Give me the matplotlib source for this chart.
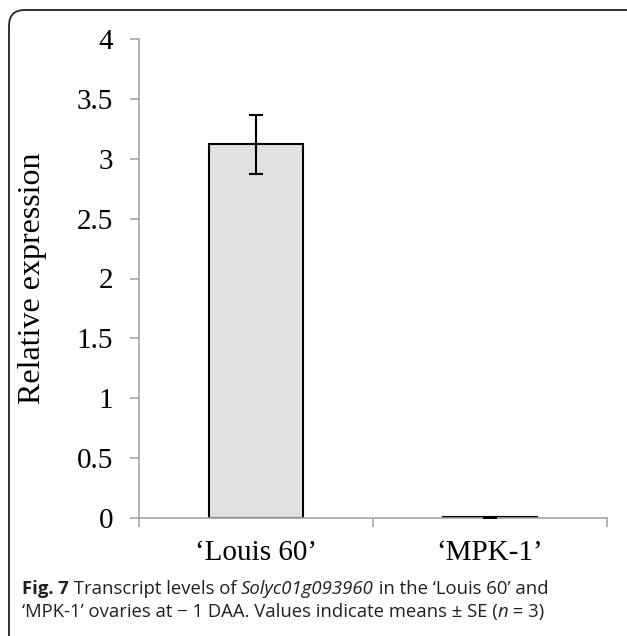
import numpy as np
import matplotlib
matplotlib.use("Agg")
import matplotlib.pyplot as plt
from matplotlib.patches import FancyBboxPatch

categories = ["\u2018Louis 60\u2019", "\u2018MPK-1\u2019"]
values = [3.12, 0.005]
errors = [0.245, 0.003]
yticks = [0, 0.5, 1, 1.5, 2, 2.5, 3, 3.5, 4]
ytick_labels = ["0", "0.5", "1", "1.5", "2", "2.5", "3", "3.5", "4"]

W, H = 627, 636
fig = plt.figure(figsize=(W / 100, H / 100), dpi=100)

# rounded frame round the whole figure (bottom runs off the page)
frame = FancyBboxPatch((9 / W, -30 / H), (W + 30 - 9) / W, (H - 10 + 30) / H,
                       boxstyle="round,pad=0,rounding_size=0.025",
                       transform=fig.transFigure, fill=False,
                       edgecolor="#222222", linewidth=1.3)
fig.patches.append(frame)

ax = fig.add_axes([139 / W, 118 / H, (607 - 139) / W, (597 - 118) / H])
x = np.arange(len(categories))
ax.bar(x, values, width=0.4, color="#e1e1e1", edgecolor="black", linewidth=1.5, zorder=2)
ax.errorbar(x, values, yerr=errors, fmt="none", ecolor="black", elinewidth=1.5,
            capsize=4.7, capthick=1.5, zorder=3)

ax.set_xlim(-0.5, 1.5)
ax.set_ylim(0, 4)
ax.set_yticks(yticks)
ax.set_yticklabels(ytick_labels, fontfamily="Liberation Serif", fontsize=21)
ax.set_xticks(x)
ax.set_xticklabels(categories, fontfamily="Liberation Serif", fontsize=21)
ax.set_xticks([-0.5, 0.5, 1.5], minor=True)
ax.tick_params(axis="x", which="major", length=0, pad=16)
ax.tick_params(axis="x", which="minor", length=6.5, width=1.2, color="#a6a6a6", direction="out")
ax.tick_params(axis="y", length=6.5, width=1.2, color="#a6a6a6", direction="out", pad=12)

for s in ["top", "right"]:
    ax.spines[s].set_visible(False)
for s in ["left", "bottom"]:
    ax.spines[s].set_color("#a6a6a6")
    ax.spines[s].set_linewidth(1.2)

ax.set_ylabel("Relative expression", fontfamily="Liberation Serif", fontsize=23)
ax.yaxis.set_label_coords(-(139 - 47) / (607 - 139), 0.5)

# caption, written piece by piece so bold and italic parts can be mixed
cap = "Open Sans"
csize = 13.3
r = fig.canvas.get_renderer()


def caption_line(parts, y_px):
    xpos = 22
    for txt, weight, style in parts:
        t = fig.text(xpos / W, 1 - y_px / H, txt, fontfamily=cap, fontweight=weight,
                     fontstyle=style, fontsize=csize, va="center", ha="left",
                     color="#231f20")
        fig.canvas.draw()
        xpos = t.get_window_extent(r).x1


caption_line([("Fig. 7", "bold", "normal"),
              (" Transcript levels of ", "normal", "normal"),
              ("Solyc01g093960", "normal", "italic"),
              (" in the \u2018Louis 60\u2019 and", "normal", "normal")], 589)
caption_line([("\u2018MPK-1\u2019 ovaries at \u2212 1 DAA. Values indicate means \u00b1 SE (",
               "normal", "normal"),
              ("n", "normal", "italic"),
              (" = 3)", "normal", "normal")], 612)

fig.savefig("out.png", dpi=100)
